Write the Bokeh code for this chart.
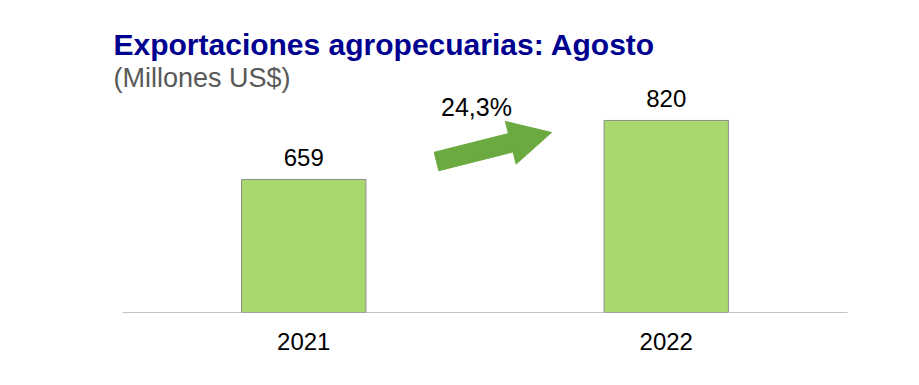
import numpy as np
from bokeh.plotting import figure
from bokeh.models import ColumnDataSource, Range1d, FixedTicker, Label, LabelSet
from bokeh.core.properties import value
from bokeh.embed import file_html
from bokeh.resources import INLINE

# ---- data ----
years = ["2021", "2022"]
values = [659, 820]
value_labels = ["659", "820"]
growth_label = "24,3%"
title_text = "Exportaciones agropecuarias: Agosto"
subtitle_text = "(Millones US$)"

FONT = "Liberation Sans"
xpos = list(range(len(years)))

# layout (page pixels)
W, H = 903, 377
PLOT_L, PLOT_R, BASE_Y = 122, 847, 312     # category band edges and baseline
FRAME_TOP = 0
BB = H - BASE_Y
PX_PER_X = (PLOT_R - PLOT_L) / 2.0
Y0 = 296
PX_PER_Y = 0.3665
X0 = -0.5 - PLOT_L / PX_PER_X
X1 = 1.5 + (W - PLOT_R) / PX_PER_X
Y1 = Y0 + (BASE_Y - FRAME_TOP) / PX_PER_Y
LBL_SHIFT = 10  # correction for label baseline placement

p = figure(width=W, height=H, output_backend="svg", toolbar_location=None,
           x_range=Range1d(X0, X1), y_range=Range1d(Y0, Y1),
           y_axis_location=None, min_border_left=0, min_border_right=0,
           min_border_top=FRAME_TOP, min_border_bottom=BB)
p.outline_line_color = None
p.xgrid.visible = False
p.ygrid.visible = False
p.background_fill_color = "white"
p.border_fill_color = "white"

src = ColumnDataSource(dict(x=xpos, top=values, lab=value_labels))
p.vbar(x="x", top="top", bottom=Y0, width=0.343, source=src,
       fill_color="#a9d86e", line_color="#8c8c8c", line_width=1)

# baseline across the two category bands
p.segment(x0=[-0.5], y0=[Y0], x1=[1.5], y1=[Y0], line_color="#8a8a8a", line_width=1.2)

p.add_layout(LabelSet(x="x", y="top", text="lab", source=src, y_offset=13,
                      text_align="center", text_baseline="alphabetic",
                      text_font=value(FONT), text_font_size="24px", text_color="#000000"))

ax = p.xaxis[0]
ax.ticker = FixedTicker(ticks=xpos)
ax.major_label_overrides = {i: y for i, y in zip(xpos, years)}
ax.major_tick_line_color = None
ax.minor_tick_line_color = None
ax.axis_line_color = None
ax.major_label_standoff = 14
ax.major_label_text_font = FONT
ax.major_label_text_font_size = "24px"
ax.major_label_text_color = "#000000"

# ---- growth arrow (shape defined in page pixels, converted to data) ----
def to_data(px, py):
    return X0 + px / PX_PER_X, Y0 + (BASE_Y - py) / PX_PER_Y

T = np.array([436, 161], float)
P = np.array([551, 132], float)
u = (P - T) / np.linalg.norm(P - T)
n = np.array([-u[1], u[0]])
hw_s, hw_h, hl = 9.5, 22.0, 42.0
Hb = P - u * hl
pts = [T + n * hw_s, Hb + n * hw_s, Hb + n * hw_h, P, Hb - n * hw_h, Hb - n * hw_s, T - n * hw_s]
ax_d, ay_d = zip(*[to_data(*pt) for pt in pts])
p.patch(list(ax_d), list(ay_d), fill_color="#6aaa40", line_color="#6aaa40", line_width=1)

p.add_layout(Label(x=476, y=BASE_Y - 116 + LBL_SHIFT, x_units="screen", y_units="screen",
                   text=growth_label, text_align="center", text_baseline="alphabetic",
                   text_font=FONT, text_font_size="25px", text_color="#000000"))

p.add_layout(Label(x=113, y=BASE_Y - 54 + LBL_SHIFT, x_units="screen", y_units="screen",
                   text=title_text, text_align="left", text_baseline="alphabetic",
                   text_font=FONT, text_font_size="30px", text_font_style="bold",
                   text_color="#000090"))
p.add_layout(Label(x=113, y=BASE_Y - 87 + LBL_SHIFT, x_units="screen", y_units="screen",
                   text=subtitle_text, text_align="left", text_baseline="alphabetic",
                   text_font=FONT, text_font_size="27px", text_color="#595959"))

open("out.html", "w").write(file_html(p, INLINE))
